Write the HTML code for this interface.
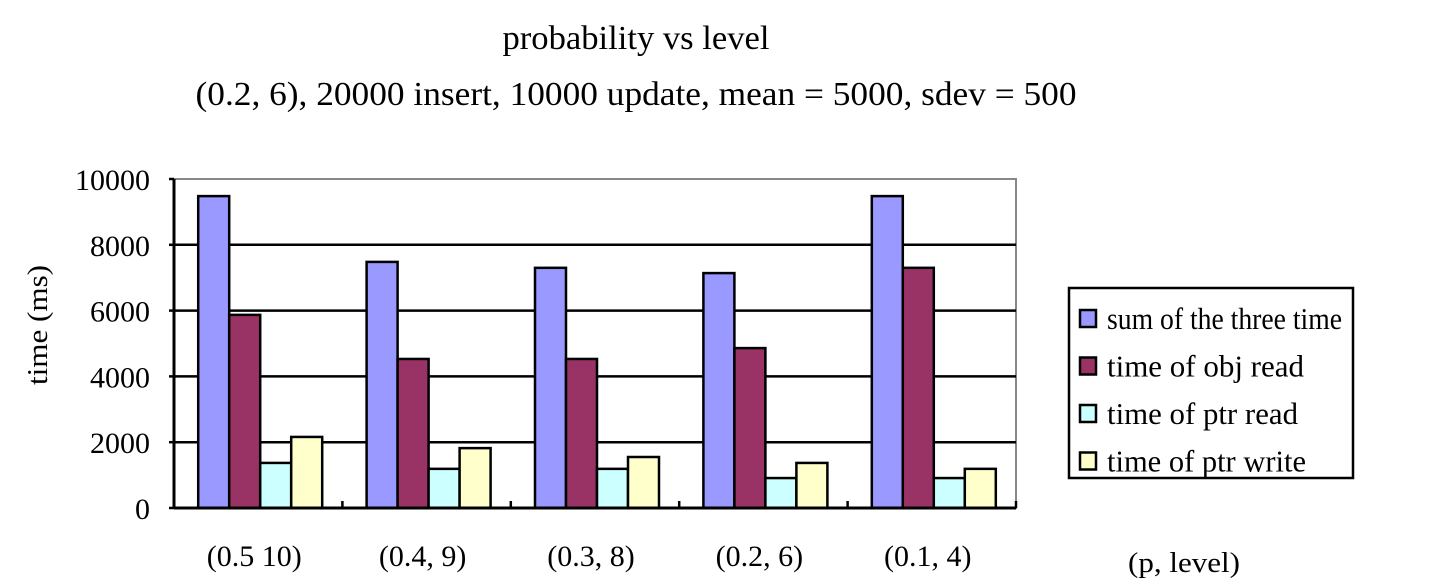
<!DOCTYPE html>
<html><head><meta charset="utf-8"><style>
html,body{margin:0;padding:0;background:#fff;}
svg{display:block;font-family:"Liberation Serif","Noto Serif CJK SC",serif;}
</style></head><body>
<svg id="chart" width="1434" height="588" viewBox="0 0 1434 588" xmlns="http://www.w3.org/2000/svg">
<text x="636" y="49" font-size="34" text-anchor="middle" textLength="267" lengthAdjust="spacingAndGlyphs">probability vs level</text>
<text x="636" y="105" font-size="34" text-anchor="middle" textLength="881" lengthAdjust="spacingAndGlyphs">(0.2, 6), 20000 insert, 10000 update, mean = 5000, sdev = 500</text>
<text transform="translate(47,325) rotate(-90)" font-size="29" text-anchor="middle" textLength="120" lengthAdjust="spacingAndGlyphs">time (ms)</text>
<text x="1128" y="572" font-size="29" textLength="112" lengthAdjust="spacingAndGlyphs">(p, level)</text>
<g id="grid"></g>
<g id="bars"></g>
<g id="axes"></g>
<g id="legend">
<rect x="1069" y="288" width="284" height="190" fill="#fff" stroke="#000" stroke-width="2.5"/>
</g>
</svg>
<script>
const categories = ["(0.5 10)", "(0.4, 9)", "(0.3, 8)", "(0.2, 6)", "(0.1, 4)"];
const sumTime = [9480, 7480, 7300, 7140, 9480];
const objRead = [5870, 4530, 4530, 4860, 7300];
const ptrRead = [1370, 1190, 1190, 910, 910];
const ptrWrite = [2160, 1820, 1550, 1370, 1190];
const yTicks = [0, 2000, 4000, 6000, 8000, 10000];
const seriesNames = ["sum of the three time", "time of obj read", "time of ptr read", "time of ptr write"];

const NS = "http://www.w3.org/2000/svg";
const L = 174, R = 1016, T = 179, B = 508, YMAX = 10000;
const y = v => B - (v / YMAX) * (B - T);
const gw = (R - L) / categories.length;
const barW = 31;
const xBar = (i, s) => L + i * gw + (gw - 4 * barW) / 2 + 2 + s * barW;
const colors = ["#9999ff", "#993366", "#ccffff", "#ffffcc"];
const series = [sumTime, objRead, ptrRead, ptrWrite];
const keys = ["sum", "obj-read", "ptr-read", "ptr-write"];
function mk(tag, attrs, parent) {
  const e = document.createElementNS(NS, tag);
  for (const k in attrs) e.setAttribute(k, attrs[k]);
  parent.appendChild(e);
  return e;
}
const grid = document.getElementById("grid");
const axes = document.getElementById("axes");
const bars = document.getElementById("bars");
mk("rect", {x: L, y: T, width: R - L, height: B - T, fill: "#fff", stroke: "#888", "stroke-width": 2}, grid);
yTicks.forEach(t => {
  if (t > 0 && t < YMAX) {
    const ln = mk("line", {x1: L, x2: R, y1: y(t), y2: y(t), stroke: "#000", "stroke-width": 2.5}, grid);
    
    
  }
  const tk = mk("line", {x1: L - 5, x2: L, y1: y(t), y2: y(t), stroke: "#000", "stroke-width": 2.5}, axes);
  
  
  const tx = mk("text", {x: 150, y: y(t) + 11, "font-size": 30, "text-anchor": "end"}, axes);
  tx.textContent = t;
  
  
});
series.forEach((vals, s) => {
  vals.forEach((v, i) => {
    const r = mk("rect", {x: xBar(i, s), y: y(v), width: barW, height: B - y(v), fill: colors[s], stroke: "#000", "stroke-width": 2.5}, bars);
    
    
  });
});
mk("line", {x1: L, x2: L, y1: T, y2: B + 1, stroke: "#000", "stroke-width": 3}, axes);
mk("line", {x1: L, x2: R, y1: B, y2: B, stroke: "#000", "stroke-width": 3}, axes);
categories.forEach((c, i) => {
  if (i > 0) {
    const tk = mk("line", {x1: L + i * gw, x2: L + i * gw, y1: B - 7, y2: B, stroke: "#000", "stroke-width": 2.5}, axes);
    
    
  }
  const tx = mk("text", {x: L + i * gw + gw / 2 - 4, y: 566, "font-size": 30, "text-anchor": "middle"}, axes);
  tx.textContent = c;
  
  
});
mk("line", {x1: R, x2: R, y1: B - 7, y2: B, stroke: "#000", "stroke-width": 2.5}, axes);
const leg = document.getElementById("legend");
const legW = [235, 197, 191, 199];
seriesNames.forEach((n, s) => {
  const cy = 318 + s * 47.5;
  const sw = mk("rect", {x: 1080, y: cy - 8, width: 16, height: 17, fill: colors[s], stroke: "#000", "stroke-width": 2.5}, leg);
  
  
  const tx = mk("text", {x: 1107, y: cy + 11, "font-size": 31, textLength: legW[s], lengthAdjust: "spacingAndGlyphs"}, leg);
  tx.textContent = n;
  
  
});
</script>
</body></html>
